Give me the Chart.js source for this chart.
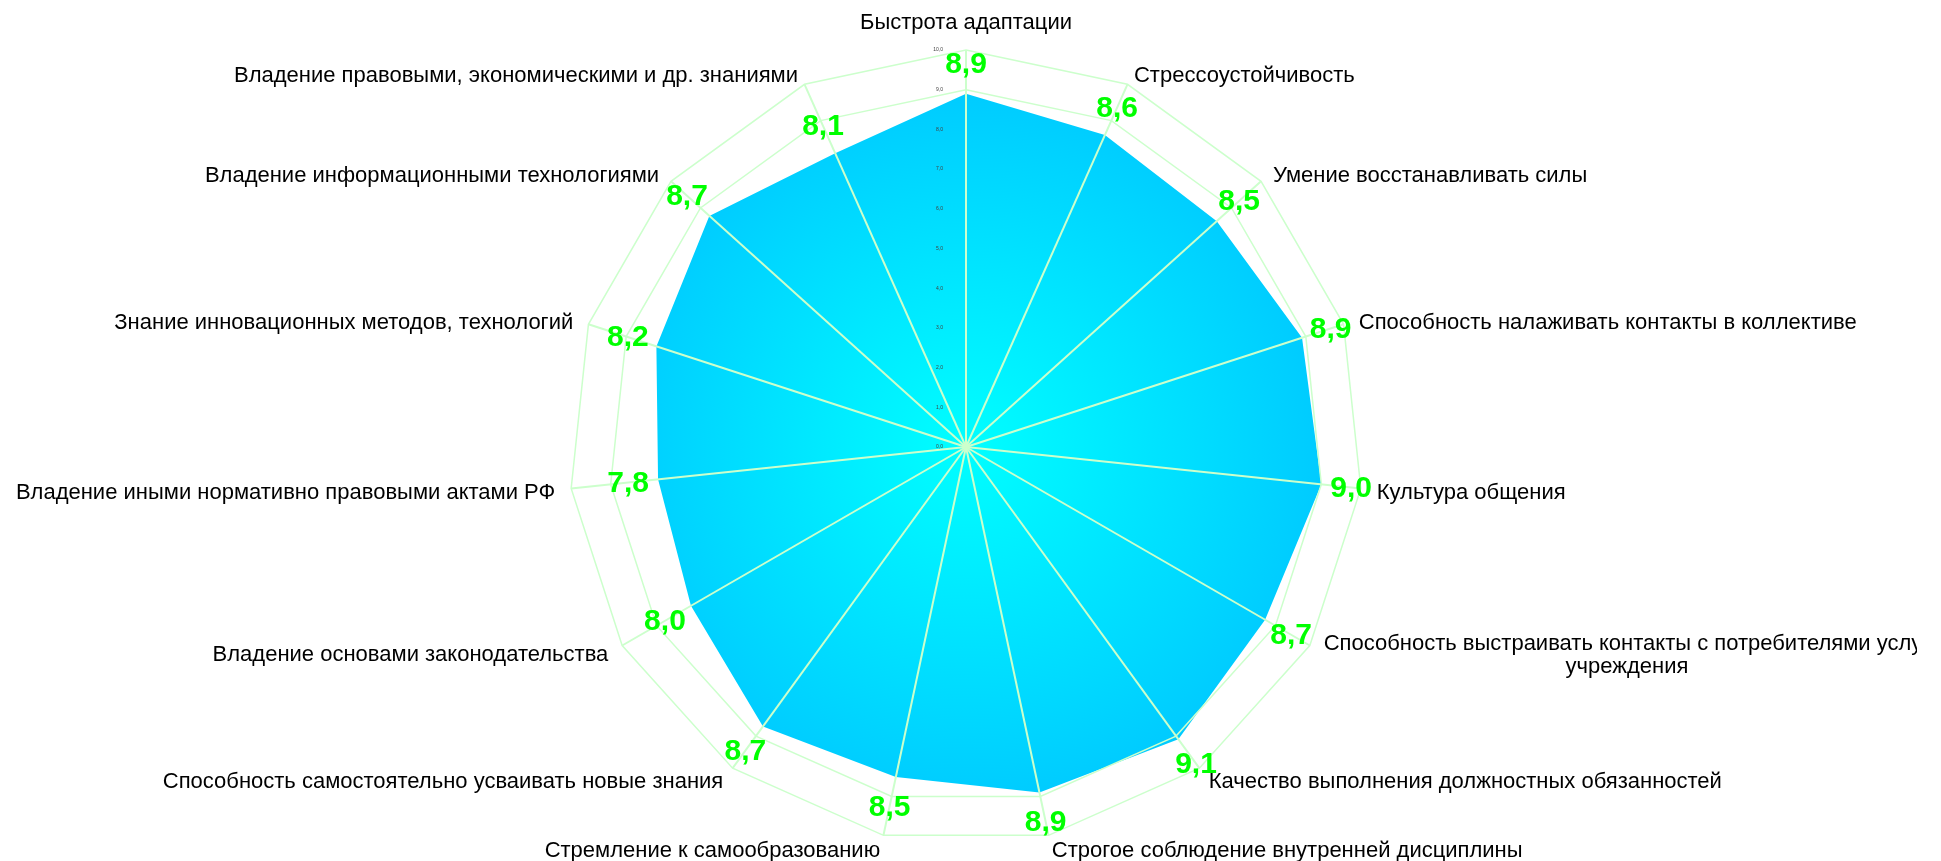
<!DOCTYPE html>
<html lang="ru">
<head>
<meta charset="utf-8">
<title>Профессиональные качества</title>
<script src="https://cdn.jsdelivr.net/npm/chart.js@4/dist/chart.umd.min.js"></script>
<style>
html, body { margin: 0; padding: 0; background: #fff; overflow: hidden; }
</style>
</head>
<body>
<canvas id="qualities" width="1941" height="861"></canvas>
<script>
const categories = [
    'Быстрота адаптации',
    'Стрессоустойчивость',
    'Умение восстанавливать силы',
    'Способность налаживать контакты в коллективе',
    'Культура общения',
    ['Способность выстраивать контакты с потребителями услуг', 'учреждения'],
    'Качество выполнения должностных обязанностей',
    'Строгое соблюдение внутренней дисциплины',
    'Стремление к самообразованию',
    'Способность самостоятельно усваивать новые знания',
    'Владение основами законодательства',
    'Владение иными нормативно правовыми актами РФ',
    'Знание инновационных методов, технологий',
    'Владение информационными технологиями',
    'Владение правовыми, экономическими и др. знаниями'
];
const scores = [8.9, 8.6, 8.5, 8.9, 9.0, 8.7, 9.1, 8.9, 8.5, 8.7, 8.0, 7.8, 8.2, 8.7, 8.1];
const tickLabels = ['0,0', '1,0', '2,0', '3,0', '4,0', '5,0', '6,0', '7,0', '8,0', '9,0', '10,0'];

const FONT = '"Liberation Sans", Arial, sans-serif';
const gridGreen = '#CCFFCC';

// labels are drawn last so they sit over the filled polygon
const labelsOnTop = {
    id: 'labelsOnTop',
    afterDraw(chart) {
        const ctx = chart.ctx;
        const r = chart.scales.r;
        ctx.save();

        // tiny tick labels left of the top axis
        ctx.font = '5px ' + FONT;
        ctx.fillStyle = '#404040';
        ctx.textAlign = 'right';
        ctx.textBaseline = 'middle';
        r.ticks.forEach((t, i) => {
            const d = r.getDistanceFromCenterForValue(t.value);
            ctx.fillText(tickLabels[i], r.xCenter - 23, r.yCenter - d);
        });

        // category names (the long one gets cut a bit before the edge, like in the original)
        ctx.save();
        ctx.beginPath();
        ctx.rect(0, 0, 1917, chart.height);
        ctx.clip();
        ctx.font = '22px ' + FONT;
        ctx.fillStyle = '#000';
        ctx.textAlign = 'center';
        categories.forEach((lbl, i) => {
            const lines = Array.isArray(lbl) ? lbl : [lbl];
            const p = r.getPointPosition(i, r.drawingArea + 16);
            const c = Math.cos(p.angle);
            const s = Math.sin(p.angle);
            const w = Math.max(...lines.map(l => ctx.measureText(l).width));
            let left = p.x - w / 2;
            if (c > 0.05) left = p.x;
            else if (c < -0.05) left = p.x - w;
            let y = p.y - (lines.length - 1) * 23 / 2 + 3 * (1 - Math.max(0, s)) + 3 * Math.max(0, -s);
            if (Math.abs(c) <= 0.05 && s < 0) y -= 17;
            lines.forEach((l, k) => {
                ctx.fillText(l, left + w / 2, y + k * 23);
            });
        });
        ctx.restore();

        // green values
        ctx.font = 'bold 30px ' + FONT;
        ctx.fillStyle = '#00FF00';
        ctx.textAlign = 'center';
        scores.forEach((v, i) => {
            const p = r.getPointPosition(i, r.getDistanceFromCenterForValue(v) + 30);
            ctx.fillText(v.toFixed(1).replace('.', ','), p.x, p.y + 1);
        });
        ctx.restore();
    }
};

new Chart(document.getElementById('qualities'), {
    type: 'radar',
    data: {
        labels: categories,
        datasets: [{
            data: scores,
            fill: true,
            borderWidth: 0,
            pointRadius: 0,
            backgroundColor: (c) => {
                const r = c.chart.scales.r;
                if (!r || !r.drawingArea) return '#00DDFF';
                const g = c.chart.ctx.createRadialGradient(r.xCenter, r.yCenter, 0, r.xCenter, r.yCenter, r.drawingArea);
                g.addColorStop(0, '#00FFFF');
                g.addColorStop(0.88, '#00CCFF');
                g.addColorStop(1, '#00C8FF');
                return g;
            }
        }]
    },
    options: {
        responsive: false,
        animation: false,
        layout: { padding: { top: 50, bottom: 17, left: 0, right: 9 } },
        plugins: {
            legend: { display: false },
            tooltip: { enabled: false }
        },
        scales: {
            r: {
                min: 0,
                max: 10,
                ticks: { display: false, stepSize: 1 },
                pointLabels: { display: false },
                grid: {
                    z: 1,
                    lineWidth: 1.5,
                    color: (c) => (c.tick && c.tick.value >= 9) ? gridGreen : 'rgba(0,0,0,0)'
                },
                angleLines: { color: gridGreen, lineWidth: 2 }
            }
        }
    },
    plugins: [labelsOnTop]
});
</script>
</body>
</html>
